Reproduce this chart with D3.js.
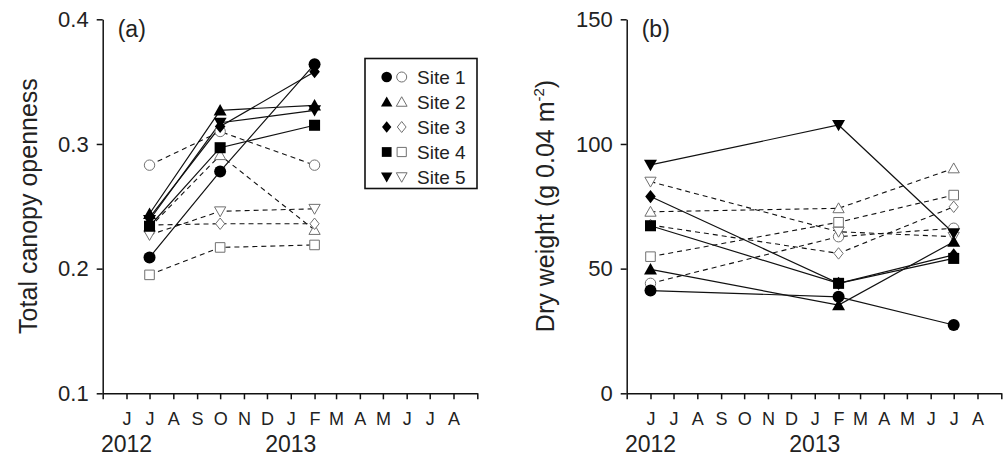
<!DOCTYPE html>
<html>
<head>
<meta charset="utf-8">
<script src="https://cdn.jsdelivr.net/npm/d3@7"></script>
<style>
  body { margin: 0; background: #fff; }
  svg { display: block; font-family: "Liberation Sans", Arial, sans-serif; }
</style>
</head>
<body>
<svg id="chart" width="1004" height="458"></svg>
<script>
// Sites and their marker shapes
var sites = ["Site 1", "Site 2", "Site 3", "Site 4", "Site 5"];
var shapes = ["circle", "up", "diamond", "square", "down"];

// (a) Total canopy openness, sampled Jul 2012, Oct 2012, Feb 2013
var canopyDates = ["2012-07-01", "2012-10-01", "2013-02-01"];
var canopyFilled = [
    [0.209, 0.278, 0.364],
    [0.244, 0.327, 0.331],
    [0.241, 0.314, 0.358],
    [0.234, 0.297, 0.315],
    [0.239, 0.317, 0.327]
];
var canopyOpen = [
    [0.283, 0.310, 0.283],
    [0.233, 0.291, 0.231],
    [0.235, 0.236, 0.236],
    [0.195, 0.217, 0.219],
    [0.227, 0.246, 0.248]
];
var canopyTicks = [0.1, 0.2, 0.3, 0.4];

// (b) Dry weight, sampled Jun 2012, Feb 2013, Jul 2013
var weightDates = ["2012-06-01", "2013-02-01", "2013-07-01"];
var weightFilled = [
    [41.2, 38.7, 27.4],
    [49.7, 35.4, 60.8],
    [78.9, 44.1, 55.5],
    [67.2, 44.1, 54.1],
    [91.6, 107.6, 64.2]
];
var weightOpen = [
    [44.1, 62.8, 66.2],
    [72.8, 74.2, 90.2],
    [67.5, 56.1, 74.8],
    [54.8, 68.6, 79.5],
    [84.9, 64.8, 62.8]
];
var weightTicks = [0, 50, 100, 150];

// x axis labels
var monthLabels = ["J", "J", "A", "S", "O", "N", "D", "J", "F", "M", "A", "M", "J", "J", "A"];
var yearLabels = ["2012", "2013"];
var yearDates = ["2012-06-01", "2013-01-01"];

var parse = d3.timeParse("%Y-%m-%d");
var xStart = parse("2012-05-01"), xEnd = parse("2013-09-01");
var monthTicks = d3.timeMonth.range(xStart, d3.timeDay.offset(xEnd, 1));

var svg = d3.select("#chart");
var top_ = 19.3, bottom = 393.3, plotW = 374.6;
var textColor = "#222";
var openColor = "#707070";

// marker outlines, r is roughly the half width
function shapePath(shape, r) {
    var p = d3.path();
    if (shape == "circle") {
        p.arc(0, 0, r, 0, 2 * Math.PI);
    } else if (shape == "up") {
        p.moveTo(0, -r * 1.05); p.lineTo(r * 1.08, r * 0.85); p.lineTo(-r * 1.08, r * 0.85);
    } else if (shape == "down") {
        p.moveTo(0, r * 1.05); p.lineTo(r * 1.08, -r * 0.85); p.lineTo(-r * 1.08, -r * 0.85);
    } else if (shape == "diamond") {
        p.moveTo(0, -r * 1.1); p.lineTo(r * 0.88, 0); p.lineTo(0, r * 1.1); p.lineTo(-r * 0.88, 0);
    } else {
        p.rect(-r * 0.92, -r * 0.92, r * 1.84, r * 1.84);
    }
    p.closePath();
    return p.toString();
}

function drawPanel(left, dates, filled, open, yDomain, ticks, fmt, label, titleX) {
    var x = d3.scaleTime().domain([xStart, xEnd]).range([left, left + plotW]);
    var y = d3.scaleLinear().domain(yDomain).range([bottom, top_]);
    var g = svg.append("g");

    // y axis
    var yAxis = g.append("g")
        .attr("transform", "translate(" + left + ",0)")
        .call(d3.axisLeft(y).tickValues(ticks).tickFormat(fmt).tickSize(6).tickSizeOuter(0).tickPadding(8));
    yAxis.selectAll("text").attr("font-size", 22).attr("fill", textColor).attr("font-family", null);

    // x axis, ticks at month starts, letters under the ticks
    var xAxis = g.append("g")
        .attr("transform", "translate(0," + bottom + ")")
        .call(d3.axisBottom(x).tickValues(monthTicks).tickSize(6).tickSizeOuter(0).tickPadding(13)
            .tickFormat(function (d, i) { return (i >= 1 && i <= monthLabels.length) ? monthLabels[i - 1] : ""; }));
    xAxis.selectAll("text").attr("font-size", 18).attr("fill", textColor).attr("font-family", null);

    g.selectAll(".domain, .tick line").attr("stroke", "#111").attr("stroke-width", 1.5);

    // years
    g.selectAll(".year").data(yearLabels).enter().append("text")
        .attr("class", "year")
        .attr("x", function (d, i) { return x(parse(yearDates[i])); })
        .attr("y", 452)
        .attr("text-anchor", "middle")
        .attr("font-size", 23)
        .attr("fill", textColor)
        .text(function (d) { return d; });

    // panel label
    g.append("text").attr("x", left + 15).attr("y", 37)
        .attr("font-size", 23).attr("fill", textColor).text(label);

    var pts = dates.map(parse);
    var line = d3.line()
        .x(function (d, i) { return x(pts[i]); })
        .y(function (d) { return y(d); });

    // dashed lines for open symbols, solid for filled
    g.selectAll(".open-line").data(open).enter().append("path")
        .attr("d", line).attr("fill", "none")
        .attr("stroke", "#111").attr("stroke-width", 1.1).attr("stroke-dasharray", "5,4");
    g.selectAll(".filled-line").data(filled).enter().append("path")
        .attr("d", line).attr("fill", "none")
        .attr("stroke", "#111").attr("stroke-width", 1.2);

    open.forEach(function (series, s) {
        g.selectAll(null).data(series).enter().append("path")
            .attr("d", shapePath(shapes[s], 5.2))
            .attr("transform", function (d, i) { return "translate(" + x(pts[i]) + "," + y(d) + ")"; })
            .attr("fill", "#fff").attr("stroke", openColor).attr("stroke-width", 1);
    });
    filled.forEach(function (series, s) {
        g.selectAll(null).data(series).enter().append("path")
            .attr("d", shapePath(shapes[s], 6))
            .attr("transform", function (d, i) { return "translate(" + x(pts[i]) + "," + y(d) + ")"; })
            .attr("fill", "#000");
    });

    return g;
}

var ga = drawPanel(102.7, canopyDates, canopyFilled, canopyOpen, [0.1, 0.4], canopyTicks, d3.format(".1f"), "(a)");
var gb = drawPanel(626.7, weightDates, weightFilled, weightOpen, [0, 150], weightTicks, d3.format("d"), "(b)");

// axis titles
svg.append("text")
    .attr("transform", "translate(37,206) rotate(-90)")
    .attr("text-anchor", "middle").attr("font-size", 25).attr("fill", textColor)
    .text("Total canopy openness");

var t2 = svg.append("text")
    .attr("transform", "translate(554,206) rotate(-90)")
    .attr("text-anchor", "middle").attr("font-size", 25).attr("fill", textColor);
t2.append("tspan").text("Dry weight (g 0.04 m");
t2.append("tspan").attr("dy", -10).attr("font-size", 15).text("-2");
t2.append("tspan").attr("dy", 10).text(")");

// legend
var legend = svg.append("g");
legend.append("rect")
    .attr("x", 365).attr("y", 58.5).attr("width", 112).attr("height", 130)
    .attr("fill", "#fff").attr("stroke", "#111").attr("stroke-width", 1.6);
var rows = legend.selectAll(".row").data(sites).enter().append("g")
    .attr("transform", function (d, i) { return "translate(0," + (77 + i * 25) + ")"; });
rows.append("path")
    .attr("d", function (d, i) { return shapePath(shapes[i], 5.3); })
    .attr("transform", "translate(386.7,0)")
    .attr("fill", "#000");
rows.append("path")
    .attr("d", function (d, i) { return shapePath(shapes[i], 5); })
    .attr("transform", "translate(401.7,0)")
    .attr("fill", "#fff").attr("stroke", openColor).attr("stroke-width", 1);
rows.append("text")
    .attr("x", 417).attr("y", 7)
    .attr("font-size", 19).attr("fill", textColor)
    .text(function (d) { return d; });
</script>
</body>
</html>
